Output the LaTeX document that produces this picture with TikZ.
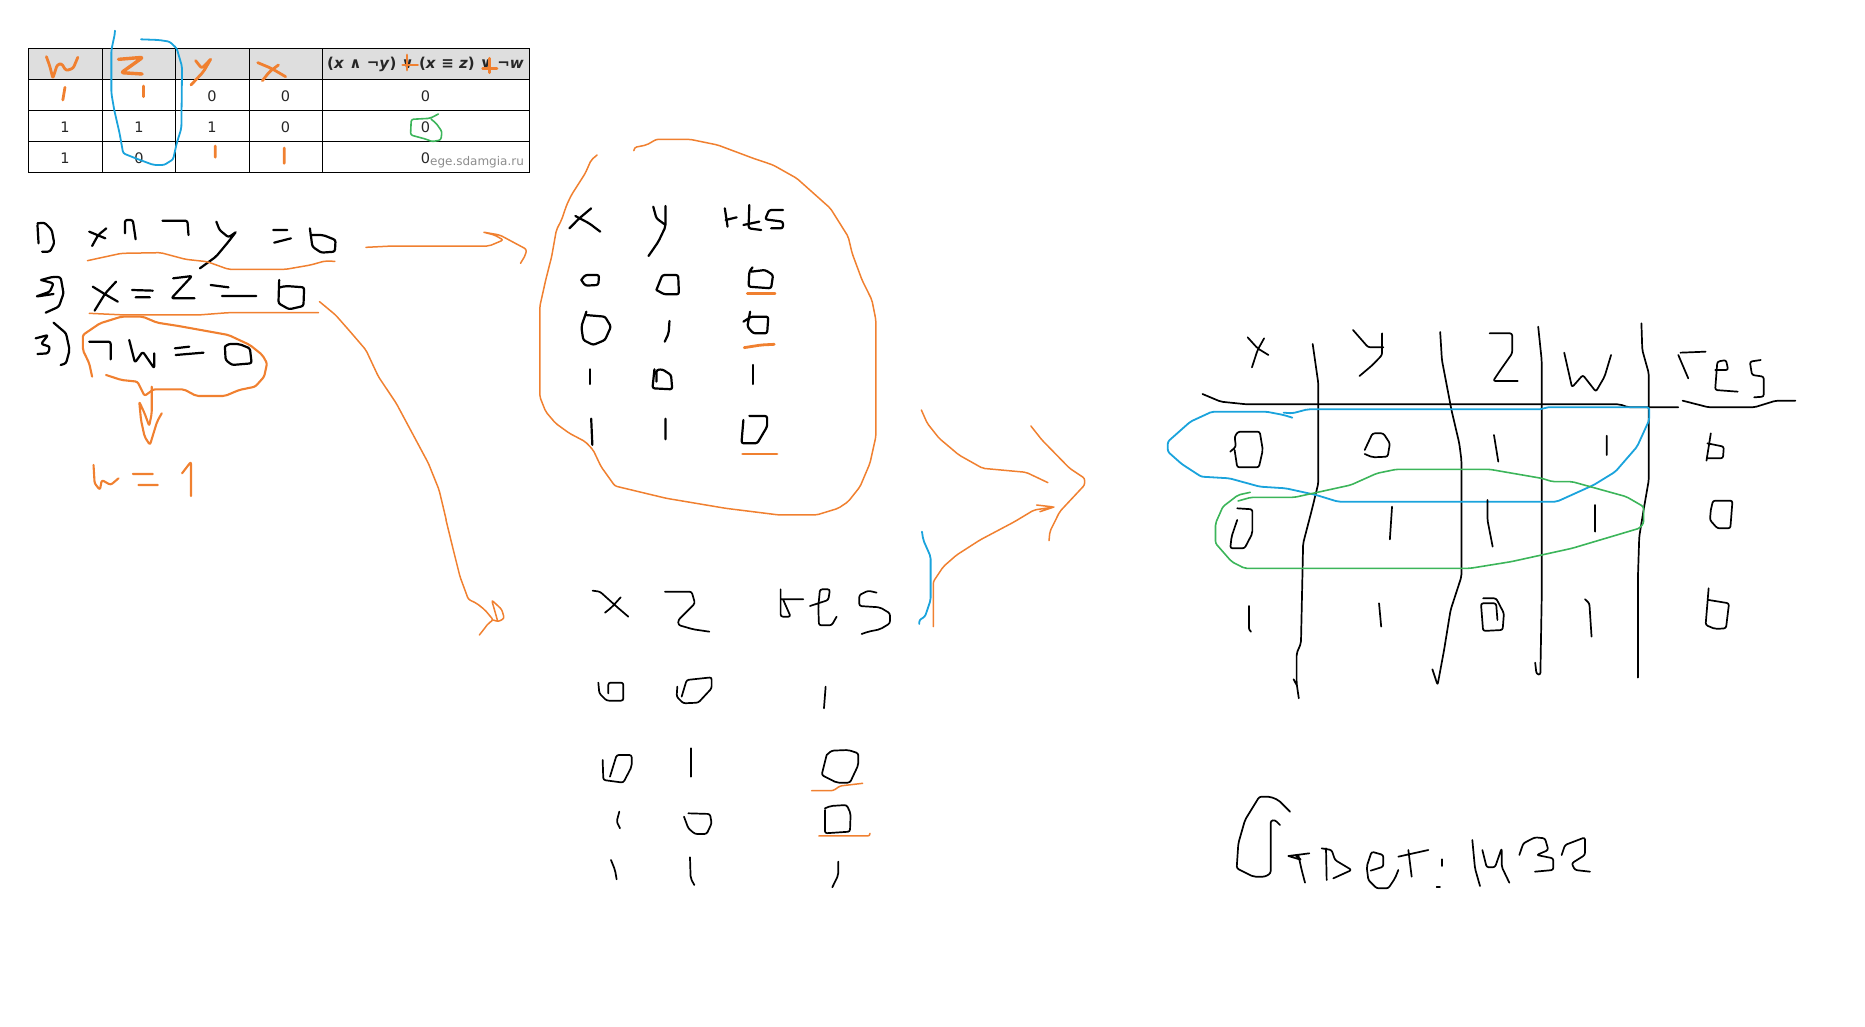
\documentclass[tikz,border=0pt]{standalone}
\usepackage{fontspec}
\setmainfont{DejaVu Sans}
\definecolor{ork}{HTML}{F08030}
\definecolor{blu}{HTML}{1AA3DC}
\definecolor{grn}{HTML}{3CB55A}
\tikzset{
 zm/.style n args={3}{x=#1pt,y=-0.3333pt,shift={(#2pt,-#3pt)}},
 sk/.style={line join=round,line cap=round,rounded corners=2.2pt},
 blk/.style={sk,draw=black,line width=2.2pt},
 blt/.style={sk,draw=black,line width=1.7pt},
 org/.style={sk,draw=ork,line width=1.5pt},
 orb/.style={sk,draw=ork,line width=2.8pt},
 bls/.style={sk,draw=blu,line width=1.8pt},
 grs/.style={sk,draw=grn,line width=1.6pt},
 cell/.style={inner sep=0pt,text=black!85,font=\fontsize{14.5}{17}\selectfont},
 rule/.style={draw=black,line width=1pt}
}
\begin{document}
\begin{tikzpicture}[x=1pt,y=-1pt]
\useasboundingbox (0,0) rectangle (1865,1026);
% table
\fill[black!13] (28.5,48.5) rectangle (529,79.5);
\draw[rule] (28.5,48.5) rectangle (529,172.5);
\draw[rule] (28.5,79.5)--(529,79.5) (28.5,110.5)--(529,110.5) (28.5,141.5)--(529,141.5);
\draw[rule] (102.5,48.5)--(102.5,172.5) (175.5,48.5)--(175.5,172.5) (249,48.5)--(249,172.5) (322,48.5)--(322,172.5);
\node[cell] (hd) at (425.5,64) {\fontsize{15}{17}\selectfont\bfseries (\textit{x} ∧ ¬\textit{y}) ∨ (\textit{x} ≡ \textit{z}) ∨ ¬\textit{w}};
\node[cell] (a1) at (212,96.5) {0};
\node[cell] (a2) at (285.5,96.5) {0};
\node[cell] (a3) at (425.5,96.5) {0};
\node[cell] (b1) at (65,127) {1};
\node[cell] (b2) at (139,127) {1};
\node[cell] (b3) at (212,127) {1};
\node[cell] (b4) at (285.5,127) {0};
\node[cell] (b5) at (425.5,127) {0};
\node[cell] (c1) at (65,158) {1};
\node[cell] (c2) at (139,158) {0};
\node[cell] (c3) at (425.5,158) {0};
\node[inner sep=0pt,text=black!45,font=\fontsize{12}{14}\selectfont] (wm) at (477,162) {ege.sdamgia.ru};
% table annotations
\begin{scope}[zm={.357}{0}{0}]
\draw[orb] (130,170)--(140,200)--(148,235)--(160,195)--(172,190)--(185,212)--(205,205)--(218,172);
\draw[orb,line width=3.4pt] (332,178)--(400,172)--(340,218)--(398,222);
\draw[orb] (548,182)--(565,205)--(590,178) (590,178)--(570,215)--(535,255);
\draw[orb] (722,188)--(760,205)--(800,230) (780,195)--(755,215)--(735,242);
\draw[orb] (182,262)--(176,300) (402,258)--(402,290) (603,438)--(603,472) (796,444)--(796,490);
\draw[orb] (1140,165)--(1140,210) (1128,195)--(1170,195) (1372,175)--(1372,218) (1352,205)--(1392,205);
\draw[grs] (1228,342)--(1205,355)--(1152,358)--(1150,405)--(1195,418)--(1210,425)--(1235,420)--(1238,395)--(1222,370)--(1208,358);
\draw[bls] (322,92)--(322,100)--(312,150)--(312,280)--(320,330)--(335,400)--(345,460)--(380,475)--(430,495)--(460,495)--(485,478)--(495,430)--(508,385)--(510,200)--(495,145)--(475,125)--(445,120)--(395,118);
\end{scope}
% equations
\begin{scope}[zm={.357}{0}{200}]
\draw[blk] (105,70)--(125,68)--(145,90)--(152,130)--(140,155)--(118,155) (105,75)--(108,130);
\draw[blk] (250,95)--(295,115) (298,85)--(275,105)--(258,138);
\draw[blk] (350,100)--(350,60)--(372,60)--(380,118);
\draw[blk] (455,62)--(525,62)--(528,105);
\draw[blk] (606,65)--(615,90)--(640,112)--(660,97) (660,97)--(640,125)--(605,170)--(560,205);
\draw[blk] (765,90)--(805,90) (768,128)--(815,115);
\draw[blk] (868,85)--(875,140)--(900,158)--(938,155)--(940,120)--(905,105)--(870,105);
\draw[org] (245,182)--(275,175)--(340,160)--(450,158)--(520,178)--(580,185)--(640,208)--(800,208)--(870,195)--(910,183)--(938,184);
\draw[org] (1025,142)--(1100,138)--(1370,138)--(1410,120)--(1385,105)--(1352,96)--(1400,105)--(1475,148)--(1472,165)--(1458,190);
\draw[blk] (115,240)--(150,230)--(170,232)--(178,280)--(165,320)--(128,338) (115,240)--(150,250)--(140,275)--(100,290)--(150,282);
\draw[blk] (260,260)--(290,280)--(330,305) (325,245)--(295,280)--(265,332);
\draw[blk] (370,270)--(428,272) (380,292)--(420,292);
\draw[blk] (485,235)--(538,228)--(480,295)--(545,295);
\draw[blk] (590,255)--(640,262) (622,288)--(718,288);
\draw[blk] (782,240)--(780,310)--(810,328)--(850,318)--(852,262)--(800,258)--(785,262);
\draw[org] (250,340)--(350,345)--(555,345)--(640,338)--(892,338);
\draw[blk] (100,415)--(135,405)--(115,432)--(140,440)--(135,460)--(105,462) (150,368)--(185,400)--(195,450)--(185,490)--(170,495);
\draw[blk] (250,425)--(310,425)--(310,478);
\draw[blk] (362,420)--(378,488)--(400,455)--(432,505)--(432,460);
\draw[blk] (490,445)--(530,440) (492,465)--(570,458);
\draw[blk] (630,440)--(632,480)--(650,495)--(705,490)--(700,445)--(670,432)--(640,432)--(630,440);
\draw[org,line width=2.1pt] (258,530)--(250,490)--(232,450)--(232,405)--(280,370)--(340,350)--(400,350)--(440,368)--(500,378)--(640,405)--(700,435)--(735,465)--(748,490)--(740,530)--(715,560)--(670,570)--(630,588)--(550,588)--(515,568)--(430,568)--(405,588)--(385,545)--(340,540)--(297,525);
\draw[org,line width=2.1pt] (425,560)--(425,640)--(418,678)--(405,640)--(390,605)--(395,660)--(405,710)--(420,735)--(430,700)--(440,665)--(453,640);
\draw[org,line width=2.1pt] (262,795)--(265,850)--(280,870)--(285,840)--(310,855)--(332,835) (372,822)--(428,822) (388,855)--(442,855) (510,820)--(535,785)--(535,888);
\draw[org] (895,305)--(940,345)--(985,400)--(1025,450)--(1060,530)--(1110,610)--(1150,690)--(1200,790)--(1230,870)--(1250,960);
\end{scope}
% first table
\begin{scope}[zm={.3954}{520}{130}]
\draw[org] (195,75)--(180,90)--(165,130)--(130,195)--(118,225)--(105,270)--(92,300)--(80,380)--(65,450)--(50,530)--(50,800)--(65,845)--(90,880)--(125,910)--(165,935)--(185,960)--(205,1010)--(240,1068)--(370,1105)--(520,1135)--(655,1155)--(750,1155)--(805,1135)--(830,1115)--(860,1070)--(885,1000)--(900,920)--(900,570)--(890,510)--(865,450)--(840,370)--(830,320)--(785,235)--(700,145)--(640,105)--(590,85)--(500,45)--(430,28)--(345,28)--(320,45)--(290,52)--(288,62);
\draw[blk] (125,295)--(150,265)--(180,235) (140,258)--(175,280)--(203,305);
\draw[blk] (337,230)--(345,265)--(368,285) (368,228)--(368,290)--(350,335)--(325,378);
\draw[blk] (518,235)--(525,290) (520,270)--(548,262) (580,225)--(578,295)--(610,300) (565,285)--(605,275) (665,240)--(630,240)--(620,268)--(665,275)--(665,295)--(635,295);
\draw[blk] (155,450)--(165,435)--(200,435)--(198,465)--(165,467)--(155,450);
\draw[blk] (345,480)--(360,435)--(400,435)--(402,493)--(365,493)--(345,480);
\draw[blk] (588,412)--(580,425)--(578,470)--(635,475)--(640,435)--(620,420)--(585,425);
\draw[orb] (575,490)--(645,490);
\draw[blk] (168,545)--(155,590)--(160,630)--(185,645)--(215,630)--(230,590)--(215,560)--(165,555);
\draw[blk] (378,573)--(376,610)--(366,635);
\draw[blk] (582,545)--(575,590)--(590,610)--(625,610)--(628,560)--(585,560)--(565,575);
\draw[orb] (567,653)--(610,645)--(643,643);
\draw[blk] (178,718)--(178,762);
\draw[blk] (340,718)--(335,775)--(385,778)--(382,735)--(360,718)--(345,720)--(345,755);
\draw[blk] (590,705)--(590,762);
\draw[blk] (180,866)--(183,945) (368,866)--(368,928);
\draw[blk] (565,870)--(560,940)--(600,940)--(625,890)--(625,858)--(580,858);
\draw[orb] (563,972)--(650,972);
\draw[org] (1015,840)--(1030,880)--(1060,925)--(1110,975)--(1170,1015)--(1280,1027)--(1335,1058);
\draw[org] (1292,888)--(1320,930)--(1390,1015)--(1428,1045)--(1428,1065)--(1365,1145)--(1340,1205)--(1338,1232);
\end{scope}
% second table
\begin{scope}[zm={.3333}{460}{520}]
\draw[org] (-42,0)--(-20,90)--(0,170)--(25,238)--(50,250)--(75,270)--(100,300)--(85,310)--(70,330)--(58,345);
\draw[org] (100,300)--(115,305)--(133,295)--(125,268)--(95,240)--(105,275)--(112,300);
\draw[org] (1420,320)--(1420,185)--(1450,140)--(1490,105)--(1560,60)--(1662,6)--(1722,-30)--(1782,-39)--(1730,-45) (1782,-39)--(1740,-25);
\draw[bls] (1386,35)--(1390,60)--(1412,110)--(1412,240)--(1395,290)--(1378,300)--(1378,312);
\draw[blt] (398,212)--(420,215)--(470,260)--(505,290) (482,232)--(455,262)--(435,278);
\draw[blt] (615,215)--(695,215)--(705,250)--(655,300)--(655,315)--(700,328)--(748,335);
\draw[blt] (962,208)--(962,290)--(992,290)--(970,240) (962,238)--(1030,238);
\draw[blt] (1050,258)--(1105,240)--(1110,208)--(1080,208)--(1075,260)--(1077,316)--(1115,316)--(1130,290);
\draw[blt] (1250,218)--(1225,212)--(1198,225)--(1198,258)--(1260,262)--(1290,280)--(1290,310)--(1260,328)--(1225,335)--(1205,342);
\draw[blt] (415,488)--(418,520)--(440,542)--(490,542)--(490,488)--(445,488)--(445,520);
\draw[blt] (665,530)--(680,480)--(755,472)--(755,505)--(715,548)--(670,550)--(650,530)--(652,500);
\draw[blt] (1097,500)--(1092,565);
\draw[blt] (428,720)--(430,780)--(490,788)--(515,740)--(515,705)--(470,705)--(450,770);
\draw[blt] (694,685)--(694,770);
\draw[blt] (1100,705)--(1085,765)--(1130,788)--(1170,788)--(1195,735)--(1195,700)--(1165,690)--(1115,692)--(1100,705);
\draw[org] (1055,812)--(1120,812)--(1140,798)--(1208,790);
\draw[blt] (478,875)--(470,905)--(480,925);
\draw[blt] (672,890)--(685,925)--(705,942)--(740,942)--(755,910)--(750,882)--(685,880);
\draw[blt] (1095,865)--(1112,858)--(1160,855)--(1172,880)--(1170,935)--(1095,940)--(1095,870);
\draw[org] (1077,948)--(1230,948)--(1230,940);
\draw[blt] (453,1020)--(465,1050)--(470,1078) (690,1012)--(692,1075)--(703,1095) (1135,1025)--(1135,1065)--(1117,1102);
\end{scope}
% right table
\begin{scope}[zm={.4337}{1160}{310}]
\draw[blt] (202,82)--(225,115)--(250,135) (240,85)--(225,120)--(212,172);
\draw[blt] (445,60)--(480,112)--(515,112) (512,70)--(512,135)--(490,165)--(460,198);
\draw[blt] (760,70)--(812,70)--(812,130)--(785,180)--(768,213)--(825,213);
\draw[blt] (932,128)--(950,232)--(975,195)--(1005,245)--(1025,200)--(1040,135);
\draw[blt] (1195,135)--(1218,205) (1200,128)--(1258,125);
\draw[blt] (1280,180)--(1310,180)--(1305,150)--(1285,155)--(1280,240)--(1332,245);
\draw[blt] (1385,150)--(1360,155)--(1365,195)--(1392,200)--(1392,260)--(1370,262);
\draw[blt] (98,252)--(140,275)--(200,283)--(1060,283)--(1080,292)--(1195,292);
\draw[blt] (1205,272)--(1265,292)--(1370,292)--(1420,272)--(1465,272);
\draw[blt] (352,102)--(365,220)--(365,520)--(350,600)--(330,700)--(325,1000)--(315,1030)--(315,1120)--(320,1165) (315,1125)--(308,1108);
\draw[blt] (646,66)--(650,150)--(672,300)--(690,400)--(695,450)--(695,800)--(670,900)--(655,1020)--(640,1125)--(628,1078);
\draw[blt] (872,50)--(880,150)--(880,870)--(877,1095)--(868,1092)--(865,1058);
\draw[blt] (1110,40)--(1112,120)--(1127,190)--(1127,510)--(1115,600)--(1105,680)--(1102,800)--(1102,1103);
\draw[bls] (305,323)--(285,315)--(245,305)--(120,305)--(70,335)--(18,395)--(18,425)--(50,462)--(95,500)--(160,505)--(230,530)--(290,535)--(360,555)--(410,575)--(915,575)--(1000,525)--(1050,485)--(1100,410)--(1128,330)--(1128,292)--(890,292)--(880,298)--(340,298)--(305,310)--(285,308);
\draw[grs] (208,547)--(180,555)--(145,590)--(128,640)--(128,700)--(165,755)--(195,775)--(715,775)--(810,755)--(950,715)--(1105,655)--(1115,640)--(1115,590)--(1075,560)--(950,515)--(905,515)--(880,505)--(760,478)--(545,478)--(500,490)--(440,525)--(370,545)--(310,562)--(210,562)--(180,573);
\draw[blt] (162,425)--(175,410)--(172,380)--(180,365)--(230,365)--(237,420)--(228,472)--(178,472)--(172,420);
\draw[blt] (472,420)--(490,370)--(515,370)--(530,400)--(525,440)--(490,442)--(472,432);
\draw[blt] (770,375)--(780,455) (1030,377)--(1030,435);
\draw[blt] (1270,370)--(1260,452) (1262,400)--(1300,410)--(1298,445)--(1262,445);
\draw[blt] (178,595)--(213,598)--(213,670)--(195,715)--(162,715)--(165,680)--(178,630);
\draw[blt] (535,590)--(530,688) (755,570)--(755,630)--(767,710) (1003,585)--(1003,665);
\draw[blt] (1270,600)--(1275,572)--(1320,572)--(1315,655)--(1285,655)--(1268,630)--(1270,600);
\draw[blt] (205,888)--(205,960)--(210,965) (505,880)--(510,950);
\draw[blt] (745,865)--(775,865)--(793,910)--(790,960)--(745,963)--(740,880)--(775,880)--(778,930);
\draw[blt] (980,868)--(990,880)--(995,980);
\draw[blt] (1265,835)--(1258,945)--(1280,957)--(1305,955)--(1312,880)--(1265,870);
\end{scope}
% answer
\begin{scope}[zm={.3333}{1220}{780}]
\draw[blt] (210,95)--(175,60)--(150,50)--(118,50)--(75,120)--(55,190)--(50,265)--(100,290)--(135,290)--(152,280)--(152,122)--(165,120)--(180,135);
\draw[blt] (205,228)--(268,220) (205,228)--(245,240)--(225,225) (235,225)--(245,270)--(255,308);
\draw[blt] (318,205)--(320,300) (305,205)--(335,210)--(345,240)--(395,270)--(340,295);
\draw[blt] (452,272)--(490,260)--(490,225)--(455,215)--(440,260)--(445,300)--(470,325)--(505,325)--(525,295)--(535,270);
\draw[blt] (535,230)--(625,210) (565,210)--(575,290);
\draw[blt] (667,238)--(667,258) (650,322)--(660,322);
\draw[blt] (757,180)--(765,265)--(780,318);
\draw[blt] (787,210)--(800,262)--(825,262)--(845,205)--(845,260)--(868,308);
\draw[blt] (898,225)--(910,190)--(945,172)--(975,175)--(985,210)--(950,225)--(1000,235)--(1000,270)--(945,275);
\draw[blt] (1025,225)--(1035,195)--(1095,172)--(1095,225)--(1055,250)--(1065,270)--(1110,275);
\end{scope}
\end{tikzpicture}
\end{document}
